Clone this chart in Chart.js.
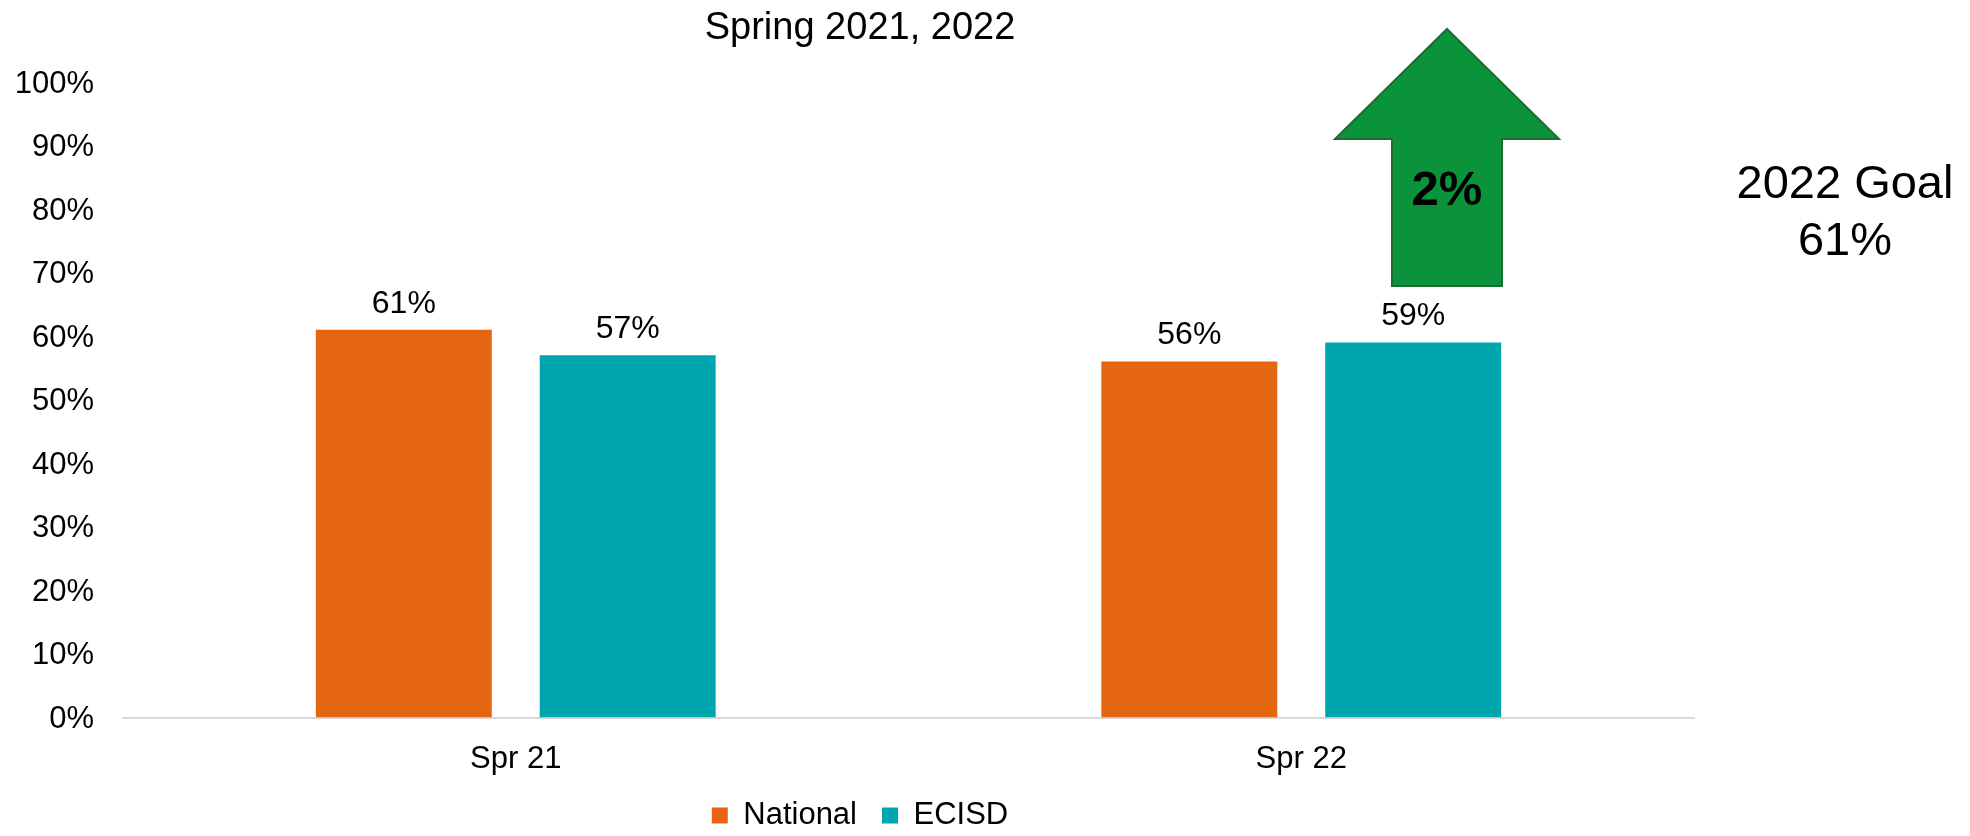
<!DOCTYPE html>
<html>
<head>
<meta charset="utf-8">
<script src="https://cdn.jsdelivr.net/npm/chart.js@4.4.1/dist/chart.umd.min.js"></script>
<style>
  html, body { margin: 0; padding: 0; background: #fff; }
  #wrap { width: 1970px; height: 836px; position: relative; }
</style>
</head>
<body>
<div id="wrap"><canvas id="chart" width="1970" height="836"></canvas></div>
<script>
// DATOS
const categories = ["Spr 21", "Spr 22"];
const seriesNames = ["National", "ECISD"];
const nationalValues = [61, 56];
const ecisdValues = [57, 59];
const yTickValues = [0, 10, 20, 30, 40, 50, 60, 70, 80, 90, 100];
const chartTitle = "Spring 2021, 2022";
const arrowLabel = "2%";
const goalLines = ["2022 Goal", "61%"];

const FONT = "'Liberation Sans', Arial, Helvetica, sans-serif";
const COLORS = { national: "#E46610", ecisd: "#00A6AE", arrow: "#0A933A", arrowEdge: "#1E6B34", axis: "#D9D9D9" };

// ETIQUETAS SOBRE LAS BARRAS
const barLabels = {
    id: "barLabels",
    afterDatasetsDraw(chart) {
        const ctx = chart.ctx;
        ctx.save();
        ctx.font = `32px ${FONT}`;
        ctx.fillStyle = "#000";
        ctx.textAlign = "center";
        ctx.textBaseline = "middle";
        chart.data.datasets.forEach((ds, i) => {
            chart.getDatasetMeta(i).data.forEach((bar, j) => {
                ctx.fillText(ds.data[j] + "%", bar.x, bar.y - 26);
            });
        });
        ctx.restore();
    }
};

// FLECHA Y META
const extras = {
    id: "extras",
    afterDraw(chart) {
        const ctx = chart.ctx;
        const a = { cx: 1447, tipY: 29, headY: 139, headHalf: 112, shaftHalf: 55, bottomY: 286 };
        ctx.save();
        ctx.beginPath();
        ctx.moveTo(a.cx, a.tipY);
        ctx.lineTo(a.cx + a.headHalf, a.headY);
        ctx.lineTo(a.cx + a.shaftHalf, a.headY);
        ctx.lineTo(a.cx + a.shaftHalf, a.bottomY);
        ctx.lineTo(a.cx - a.shaftHalf, a.bottomY);
        ctx.lineTo(a.cx - a.shaftHalf, a.headY);
        ctx.lineTo(a.cx - a.headHalf, a.headY);
        ctx.closePath();
        ctx.fillStyle = COLORS.arrow;
        ctx.fill();
        ctx.lineWidth = 2;
        ctx.strokeStyle = COLORS.arrowEdge;
        ctx.stroke();

        ctx.fillStyle = "#000";
        ctx.textAlign = "center";
        ctx.textBaseline = "middle";
        ctx.font = `bold 49px ${FONT}`;
        ctx.fillText(arrowLabel, a.cx, 191);

        ctx.font = `47px ${FONT}`;
        ctx.fillText(goalLines[0], 1845, 185);
        ctx.fillText(goalLines[1], 1845, 242);
        ctx.restore();
    }
};

const chart = new Chart(document.getElementById("chart").getContext("2d"), {
    type: "bar",
    data: {
        labels: categories,
        datasets: [
            { label: seriesNames[0], data: nationalValues, backgroundColor: COLORS.national },
            { label: seriesNames[1], data: ecisdValues, backgroundColor: COLORS.ecisd }
        ]
    },
    options: {
        responsive: false,
        animation: false,
        categoryPercentage: 0.57,
        barPercentage: 0.786,
        layout: { padding: { left: 0, right: 250, top: 0, bottom: -5 } },
        plugins: {
            title: {
                display: true,
                text: chartTitle,
                color: "#000",
                font: { family: FONT, size: 38, weight: "normal" },
                padding: { top: 6, bottom: 30.4 }
            },
            legend: {
                position: "bottom",
                labels: {
                    color: "#000",
                    font: { family: FONT, size: 31 },
                    boxWidth: 16,
                    boxHeight: 16,
                    padding: 25
                }
            },
            tooltip: { enabled: false }
        },
        scales: {
            x: {
                grid: { display: false, drawTicks: false },
                border: { display: true, color: COLORS.axis, width: 2 },
                ticks: { color: "#000", font: { family: FONT, size: 31 }, padding: 23 },
                afterFit: (s) => { s.height = 57.5; }
            },
            y: {
                min: 0,
                max: 100,
                afterBuildTicks: (s) => { s.ticks = yTickValues.map(v => ({ value: v })); },
                grid: { display: false, drawTicks: false },
                border: { display: false },
                ticks: { color: "#000", font: { family: FONT, size: 31 }, padding: 29, labelOffset: 2, callback: (v) => v + "%" },
                afterFit: (s) => { s.width = 123; }
            },
            // eje vacio a la derecha para centrar titulo y leyenda como en el original
            yRight: {
                position: "right",
                display: true,
                grid: { display: false },
                border: { display: false },
                ticks: { display: false },
                afterFit: (s) => { s.width = 26; }
            }
        }
    },
    plugins: [barLabels, extras]
});
</script>
</body>
</html>
